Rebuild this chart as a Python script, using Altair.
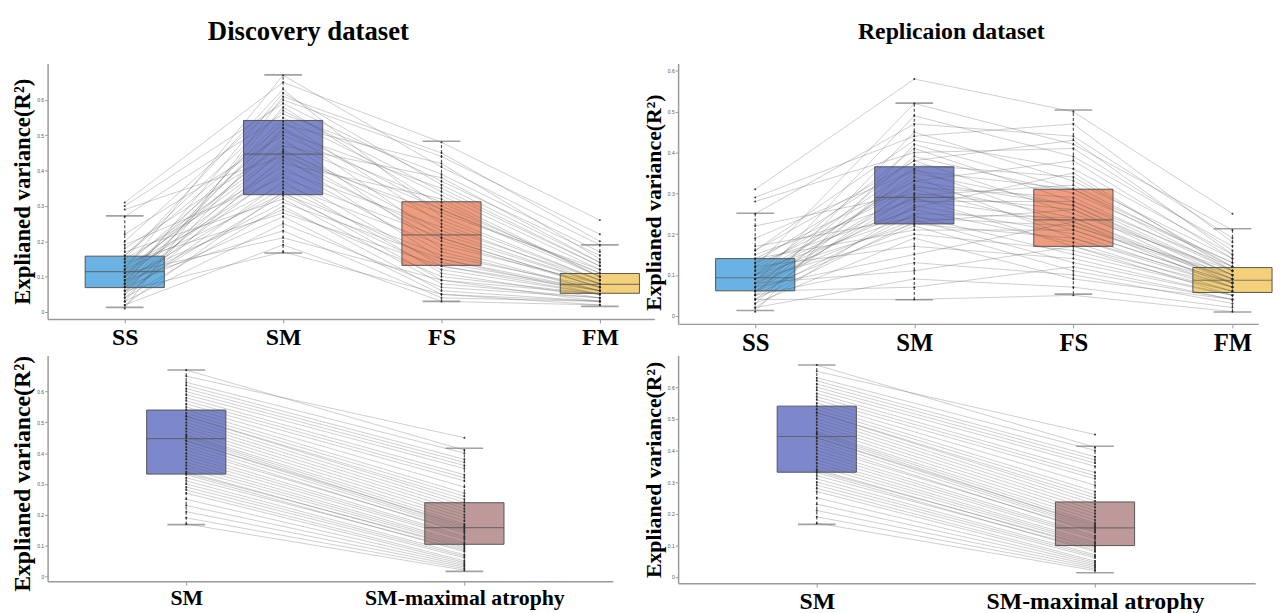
import altair as alt
import pandas as pd

cats_top = ["SS", "SM", "FS", "FM"]
cats_bot = ["SM", "SM-maximal atrophy"]

# ---- Discovery dataset, per-subject explained variance (R^2) ----
disc_ss = [0.31, 0.12, 0.08, 0.20, 0.05, 0.15, 0.27, 0.10, 0.07, 0.16, 0.03, 0.13,
           0.22, 0.09, 0.11, 0.18, 0.06, 0.14, 0.12, 0.04, 0.29, 0.10, 0.08, 0.15,
           0.07, 0.11, 0.19, 0.05, 0.13, 0.09, 0.02, 0.12, 0.06, 0.17, 0.08, 0.04,
           0.10, 0.14, 0.07, 0.03, 0.09, 0.11, 0.02, 0.06, 0.30, 0.01, 0.16, 0.10]
disc_sm = [0.65, 0.67, 0.62, 0.60, 0.58, 0.63, 0.56, 0.55, 0.54, 0.53, 0.52, 0.51,
           0.50, 0.49, 0.48, 0.47, 0.46, 0.455, 0.45, 0.44, 0.44, 0.43, 0.42, 0.41,
           0.40, 0.39, 0.38, 0.37, 0.36, 0.35, 0.34, 0.335, 0.33, 0.32, 0.31, 0.30,
           0.29, 0.28, 0.27, 0.25, 0.23, 0.21, 0.19, 0.17, 0.59, 0.61, 0.57, 0.52]
disc_fs = [0.48, 0.41, 0.36, 0.44, 0.30, 0.27, 0.39, 0.33, 0.25, 0.42, 0.21, 0.35,
           0.31, 0.18, 0.29, 0.38, 0.23, 0.26, 0.20, 0.15, 0.28, 0.22, 0.32, 0.17,
           0.24, 0.13, 0.21, 0.11, 0.19, 0.14, 0.09, 0.16, 0.12, 0.08, 0.15, 0.06,
           0.10, 0.13, 0.05, 0.07, 0.04, 0.09, 0.03, 0.05, 0.37, 0.45, 0.34, 0.29]
disc_fm = [0.26, 0.19, 0.14, 0.22, 0.11, 0.09, 0.17, 0.12, 0.08, 0.15, 0.07, 0.13,
           0.10, 0.06, 0.11, 0.14, 0.08, 0.09, 0.07, 0.05, 0.12, 0.08, 0.10, 0.06,
           0.09, 0.05, 0.07, 0.04, 0.08, 0.06, 0.03, 0.07, 0.05, 0.04, 0.06, 0.03,
           0.05, 0.06, 0.02, 0.04, 0.03, 0.05, 0.02, 0.03, 0.16, 0.20, 0.13, 0.10]
disc_smmax = [0.45, 0.41, 0.38, 0.36, 0.33, 0.40, 0.31, 0.29, 0.27, 0.26, 0.24, 0.23,
              0.22, 0.21, 0.20, 0.19, 0.18, 0.17, 0.16, 0.165, 0.155, 0.15, 0.14, 0.145,
              0.13, 0.125, 0.12, 0.11, 0.105, 0.10, 0.09, 0.095, 0.08, 0.085, 0.07, 0.065,
              0.06, 0.05, 0.045, 0.04, 0.035, 0.03, 0.025, 0.02, 0.35, 0.37, 0.32, 0.25]

# ---- Replication dataset ----
rep_ss = [0.31, 0.12, 0.08, 0.25, 0.05, 0.16, 0.10, 0.28, 0.07, 0.13, 0.03, 0.11,
          0.19, 0.06, 0.09, 0.14, 0.04, 0.12, 0.08, 0.22, 0.06, 0.10, 0.15, 0.07,
          0.02, 0.09, 0.13, 0.05, 0.11, 0.17, 0.08, 0.04, 0.10, 0.06, 0.14, 0.09,
          0.03, 0.12, 0.07, 0.05, 0.08, 0.02, 0.06, 0.04, 0.29, 0.01, 0.16, 0.10]
rep_sm = [0.58, 0.52, 0.49, 0.47, 0.45, 0.43, 0.41, 0.40, 0.39, 0.38, 0.37, 0.36,
          0.355, 0.35, 0.34, 0.33, 0.32, 0.315, 0.31, 0.30, 0.295, 0.29, 0.285, 0.28,
          0.27, 0.265, 0.26, 0.25, 0.245, 0.24, 0.235, 0.23, 0.225, 0.22, 0.21, 0.20,
          0.19, 0.17, 0.15, 0.13, 0.11, 0.09, 0.07, 0.04, 0.44, 0.42, 0.38, 0.33]
rep_fs = [0.50, 0.42, 0.39, 0.44, 0.33, 0.36, 0.28, 0.41, 0.30, 0.25, 0.34, 0.22,
          0.31, 0.27, 0.19, 0.38, 0.24, 0.29, 0.21, 0.26, 0.32, 0.17, 0.23, 0.28,
          0.20, 0.35, 0.18, 0.24, 0.15, 0.22, 0.13, 0.26, 0.19, 0.11, 0.21, 0.16,
          0.09, 0.14, 0.23, 0.10, 0.17, 0.07, 0.12, 0.05, 0.47, 0.31, 0.43, 0.27]
rep_fm = [0.25, 0.21, 0.17, 0.19, 0.14, 0.15, 0.12, 0.16, 0.13, 0.11, 0.12, 0.10,
          0.13, 0.09, 0.08, 0.14, 0.09, 0.11, 0.08, 0.10, 0.12, 0.07, 0.09, 0.10,
          0.07, 0.11, 0.06, 0.08, 0.06, 0.09, 0.05, 0.08, 0.07, 0.04, 0.08, 0.06,
          0.04, 0.05, 0.07, 0.03, 0.05, 0.02, 0.04, 0.01, 0.18, 0.11, 0.15, 0.10]

# ---- Box statistics: lower whisker, Q1, median, Q3, upper whisker ----
tl_lo = [0.013, 0.167, 0.030, 0.016]
tl_q1 = [0.069, 0.332, 0.132, 0.053]
tl_med = [0.114, 0.447, 0.218, 0.078]
tl_q3 = [0.158, 0.542, 0.312, 0.109]
tl_hi = [0.272, 0.671, 0.483, 0.190]

tr_lo = [0.013, 0.039, 0.053, 0.009]
tr_q1 = [0.061, 0.225, 0.170, 0.057]
tr_med = [0.093, 0.290, 0.235, 0.087]
tr_q3 = [0.140, 0.365, 0.310, 0.118]
tr_hi = [0.251, 0.521, 0.504, 0.213]

bl_lo = [0.168, 0.016]
bl_q1 = [0.332, 0.104]
bl_med = [0.447, 0.158]
bl_q3 = [0.540, 0.239]
bl_hi = [0.670, 0.416]

br_lo = [0.166, 0.013]
br_q1 = [0.331, 0.099]
br_med = [0.444, 0.155]
br_q3 = [0.540, 0.237]
br_hi = [0.670, 0.413]

y_ticks = [0, 0.1, 0.2, 0.3, 0.4, 0.5, 0.6]

colors_top = ["#62aee2", "#7682c9", "#ee9677", "#f2cd72"]
colors_bot = ["#7682c9", "#b99594"]

SERIF = "Liberation Serif"
YTITLE = "Explianed variance(R²)"


def panel(series, cats, lo, q1, med, q3, hi, colors, width, height, ydom,
          pad, align, title=None, title_dx=0, title_size=25, title_offset=16,
          ytitle_size=23, ytitle_y=None, xlabel_size=24):
    rows = []
    for j, cat in enumerate(cats):
        for i, v in enumerate(series[j]):
            rows.append({"subject": i, "cat": cat, "order": j, "value": v})
    subj = pd.DataFrame(rows)
    box = pd.DataFrame({"cat": cats, "lo": lo, "q1": q1, "med": med, "q3": q3, "hi": hi,
                        "fill": colors})

    x = alt.X("cat:N", sort=cats,
              scale=alt.Scale(type="point", domain=cats, padding=pad, align=align),
              axis=alt.Axis(title=None, labelFont=SERIF, labelFontSize=xlabel_size,
                            labelFontWeight="bold", labelColor="black", labelAngle=0,
                            labelPadding=3, labelLimit=400, domainColor="#9a9a9a",
                            domainWidth=1.5, tickColor="#9a9a9a", tickSize=4))
    yscale = alt.Scale(domain=ydom, nice=False, zero=False)
    axis_kw = dict(title=YTITLE, titleFont=SERIF, titleFontSize=ytitle_size,
                   titleFontWeight="bold", titleColor="black", titlePadding=2,
                   titleLimit=400,
                   labelFontSize=5, labelColor="#555", labelPadding=1,
                   labelOverlap=False, labelFlush=False,
                   values=y_ticks, format=".1~f",
                   tickSize=3, tickColor="#9a9a9a", domainColor="#9a9a9a",
                   domainWidth=1.5, grid=False)
    if ytitle_y is not None:
        axis_kw["titleY"] = ytitle_y
    yaxis = alt.Axis(**axis_kw)

    def Y(field):
        return alt.Y(field, scale=yscale, axis=yaxis)

    b = alt.Chart(box)
    boxes = b.mark_bar(size=80, opacity=0.95).encode(
        x=x, y=Y("q1:Q"), y2="q3:Q", color=alt.Color("fill:N", scale=None))
    lines = alt.Chart(subj).mark_line(color="#555", opacity=0.36, strokeWidth=0.8).encode(
        x=x, y=Y("value:Q"), detail="subject:N", order="order:Q")
    whisk = b.mark_rule(color="#555", strokeDash=[3, 2], strokeWidth=1.2).encode(
        x=x, y=Y("lo:Q"), y2="hi:Q")
    cap_lo = b.mark_tick(size=38, thickness=1.6, color="#7a7a7a").encode(
        x=x, y=Y("lo:Q"))
    cap_hi = b.mark_tick(size=38, thickness=1.6, color="#7a7a7a").encode(
        x=x, y=Y("hi:Q"))
    medians = b.mark_tick(size=80, thickness=1.2, color="#555").encode(
        x=x, y=Y("med:Q"))
    outline = b.mark_bar(size=80, fillOpacity=0, stroke="#555", strokeWidth=1).encode(
        x=x, y=Y("q1:Q"), y2="q3:Q")
    pts = alt.Chart(subj).mark_circle(size=4, color="#222", opacity=0.9).encode(
        x=x, y=Y("value:Q"))

    props = dict(width=width, height=height)
    if title is not None:
        props["title"] = alt.TitleParams(title, font=SERIF, fontSize=title_size,
                                         fontWeight="bold", color="black", anchor="middle",
                                         frame="group", dx=title_dx, offset=title_offset)
    return alt.layer(boxes, lines, whisk, cap_lo, cap_hi, medians, outline, pts).properties(**props)


tl = panel([disc_ss, disc_sm, disc_fs, disc_fm], cats_top, tl_lo, tl_q1, tl_med, tl_q3, tl_hi,
           colors_top, 613, 258, [-0.0196, 0.703], 0.4156, 0.586,
           title="Discovery dataset", title_dx=-43, title_size=27, title_offset=18)
tr = panel([rep_ss, rep_sm, rep_fs, rep_fm], cats_top, tr_lo, tr_q1, tr_med, tr_q3, tr_hi,
           colors_top, 586, 263, [-0.02, 0.618], 0.323, 0.75,
           title="Replicaion dataset", title_dx=-17, title_size=24, title_offset=20,
           ytitle_size=22, ytitle_y=140, xlabel_size=25)
bl = panel([disc_sm, disc_smmax], cats_bot, bl_lo, bl_q1, bl_med, bl_q3, bl_hi,
           colors_bot, 571, 228, [-0.016, 0.717], 0.516, 0.483, ytitle_size=24,
           ytitle_y=119, xlabel_size=22)
br = panel([disc_sm, disc_smmax], cats_bot, br_lo, br_q1, br_med, br_q3, br_hi,
           colors_bot, 583, 230, [-0.02, 0.70], 0.537, 0.464, ytitle_size=22,
           ytitle_y=115, xlabel_size=24)

chart = alt.concat(tl, tr, bl, br, columns=2, spacing={"row": 32, "column": 24},
                   bounds="flush").properties(
    padding={"left": 3, "top": 7, "right": 0, "bottom": 0},
    background="white",
).configure_view(stroke=None)

chart.save("out.html", embed_options={"renderer": "svg", "actions": False})
